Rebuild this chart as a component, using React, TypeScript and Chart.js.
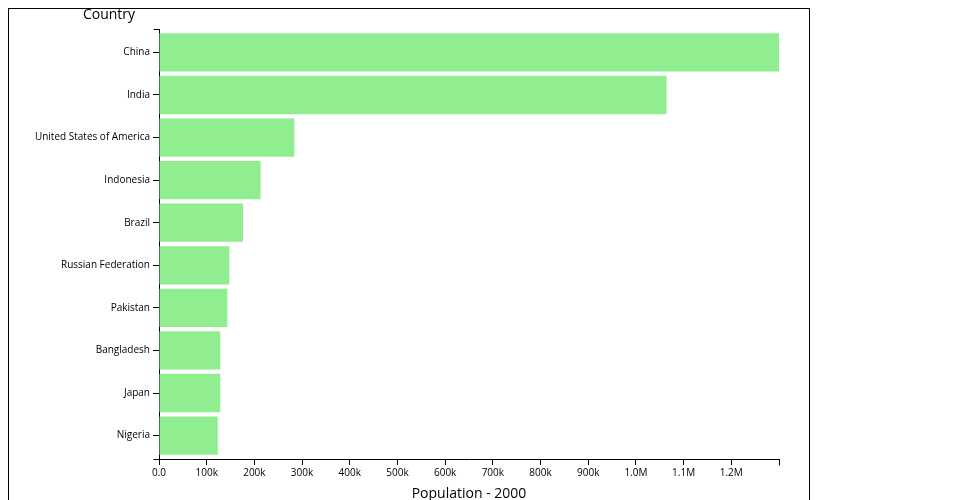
import { useEffect, useRef } from 'react';
import { Chart, registerables } from 'chart.js';

Chart.register(...registerables);

const countries = [
  'China',
  'India',
  'United States of America',
  'Indonesia',
  'Brazil',
  'Russian Federation',
  'Pakistan',
  'Bangladesh',
  'Japan',
  'Nigeria',
];
// population in thousands, year 2000
const population2000 = [1290551, 1056576, 281711, 211514, 174790, 146405, 142344, 127658, 127524, 122284];
const xTickLabels = ['0.0', '100k', '200k', '300k', '400k', '500k', '600k', '700k', '800k', '900k', '1.0M', '1.1M', '1.2M'];
const xTitle = 'Population - 2000';
const yTitle = 'Country';

const FONT = '"Open Sans", "Noto Sans", sans-serif';

const decorations = {
  id: 'decorations',
  afterDraw(chart: any) {
    const { ctx, chartArea } = chart;
    const { left, right, top, bottom } = chartArea;
    const l = Math.round(left) + 0.5;
    const r = Math.round(right) + 0.5;
    const t = Math.round(top) + 0.5;
    const b = Math.round(bottom) + 0.5;
    ctx.save();
    ctx.strokeStyle = '#000';
    ctx.lineWidth = 1;
    ctx.beginPath();
    ctx.moveTo(l - 6, t);
    ctx.lineTo(l, t);
    ctx.moveTo(l - 6, b);
    ctx.lineTo(l, b);
    ctx.moveTo(r, b);
    ctx.lineTo(r, b + 6);
    ctx.stroke();
    ctx.fillStyle = '#000';
    ctx.font = '14px ' + FONT;
    ctx.textAlign = 'center';
    ctx.textBaseline = 'alphabetic';
    ctx.fillText(yTitle, left - 50, 10);
    ctx.fillText(xTitle, (left + right) / 2, bottom + 39);
    ctx.restore();
  },
};

export default function App() {
  const ref = useRef<HTMLCanvasElement | null>(null);

  useEffect(() => {
    if (!ref.current) return;
    const chart = new Chart(ref.current, {
      type: 'bar',
      data: {
        datasets: [
          {
            data: population2000.map((v, i) => ({ x: v, y: i })) as any,
            backgroundColor: '#90EE90',
            borderWidth: 0,
            barPercentage: 0.9,
            categoryPercentage: 1.0,
          },
        ],
      },
      options: {
        indexAxis: 'y',
        responsive: false,
        animation: false,
        layout: { padding: { top: 20, right: 30, left: 0, bottom: 0 } },
        plugins: { legend: { display: false }, tooltip: { enabled: false } },
        scales: {
          x: {
            type: 'linear',
            position: 'bottom',
            min: 0,
            max: population2000[0],
            offset: false,
            grid: { drawOnChartArea: false, drawTicks: true, tickLength: 6, color: '#000', offset: false },
            border: { display: true, color: '#000', width: 1 },
            ticks: {
              stepSize: 100000,
              autoSkip: false,
              maxRotation: 0,
              includeBounds: false,
              padding: 2,
              color: '#000',
              font: { size: 10, family: FONT },
              callback: (v: any) => xTickLabels[Math.round(Number(v) / 100000)] ?? '',
            },
            afterFit: (s: any) => {
              s.height = 50;
            },
          },
          y: {
            type: 'linear',
            position: 'left',
            reverse: true,
            min: -0.55,
            max: countries.length - 0.45,
            offset: false,
            grid: { drawOnChartArea: false, drawTicks: true, tickLength: 6, color: '#000', offset: false },
            border: { display: true, color: '#000', width: 1 },
            ticks: {
              stepSize: 1,
              autoSkip: false,
              includeBounds: false,
              padding: 3,
              color: '#000',
              font: { size: 10, family: FONT },
              callback: (v: any) => countries[Number(v)] ?? '',
            },
            afterFit: (s: any) => {
              s.width = 150;
            },
          },
        },
      },
      plugins: [decorations],
    });
    return () => chart.destroy();
  }, []);

  return (
    <div style={{ width: 800, height: 500, border: '1px solid #000' }}>
      <canvas ref={ref} width={800} height={500} style={{ display: 'block' }} />
    </div>
  );
}
